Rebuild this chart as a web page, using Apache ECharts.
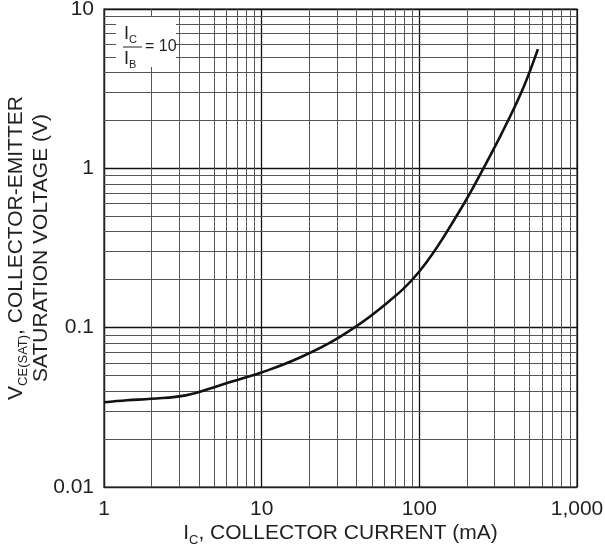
<!DOCTYPE html>
<html lang="en">

<head>
    <title>VCE(sat) vs IC</title>
    <meta charset="UTF-8">
    <script src="https://cdn.jsdelivr.net/npm/echarts@6/dist/echarts.min.js"></script>
    <style>
        html, body { margin: 0; padding: 0; background: #fff; }
        #chart { width: 605px; height: 548px; }
    </style>
</head>

<body>
    <div id="chart"></div>

    <script>
        // collector current (mA) and saturation voltage (V)
        var icValues = [1, 1.4, 2, 3.3, 5.4, 7.5, 10, 17.5, 31, 56, 100, 180, 280, 375, 465, 565];
        var vceValues = [0.034, 0.035, 0.0358, 0.0376, 0.0434, 0.048, 0.0523, 0.065, 0.087, 0.131, 0.225, 0.54, 1.19, 2.1, 3.35, 5.6];

        // log grid: minor lines inside each decade
        var xMinorLines = [2, 3, 4, 5, 6, 7, 8, 9, 20, 30, 40, 50, 60, 70, 80, 90, 200, 300, 400, 500, 600, 700, 800, 900];
        var yMinorLines = [0.02, 0.03, 0.04, 0.05, 0.06, 0.07, 0.08, 0.09, 0.2, 0.3, 0.4, 0.5, 0.6, 0.7, 0.8, 0.9, 2, 3, 4, 5, 6, 7, 8, 9];

        var xTickLabels = ['1', '10', '100', '1,000'];
        var yTickLabels = ['0.01', '0.1', '1', '10'];

        var font = 'Liberation Sans, Arial, Helvetica, sans-serif';
        var ink = '#231f20';

        var curve = [];
        for (var i = 0; i < icValues.length; i++) {
            curve.push([icValues[i], vceValues[i]]);
        }
        var gridMarks = [];
        xMinorLines.forEach(function (v) { gridMarks.push({ xAxis: v }); });
        yMinorLines.forEach(function (v) { gridMarks.push({ yAxis: v }); });

        var option = {
            animation: false,
            backgroundColor: '#fff',
            grid: {
                left: 104,
                right: 28,
                top: 9,
                bottom: 61,
                outerBoundsMode: 'none',
                containLabel: false,
                show: true,
                borderColor: '#222',
                borderWidth: 1.2
            },
            xAxis: {
                type: 'log',
                logBase: 10,
                min: 1,
                max: 1000,
                name: '{m|I}{s|C}{m|, COLLECTOR CURRENT (mA)}',
                nameLocation: 'middle',
                nameGap: 33,
                nameMoveOverlap: false,
                nameTextStyle: {
                    rich: {
                        m: { fontFamily: font, fontSize: 21, color: ink },
                        s: { fontFamily: font, fontSize: 13, color: ink, padding: [14, 0, 0, 0] }
                    }
                },
                axisLine: { show: true, lineStyle: { color: '#222', width: 1.2 } },
                axisTick: { show: false },
                splitLine: { show: true, lineStyle: { color: '#111', width: 1.3 } },
                axisLabel: {
                    margin: 12,
                    fontFamily: font,
                    fontSize: 21,
                    color: ink,
                    formatter: function (v) {
                        var k = Math.round(Math.log10(v));
                        return xTickLabels[k] || '';
                    }
                }
            },
            yAxis: {
                type: 'log',
                logBase: 10,
                min: 0.01,
                max: 10,
                name: '{m|V}{s|CE(SAT)}{m|, COLLECTOR-EMITTER}\n{m|SATURATION VOLTAGE (V)}',
                nameLocation: 'middle',
                nameRotate: 90,
                nameGap: 50,
                nameMoveOverlap: false,
                nameTextStyle: {
                    align: 'center',
                    lineHeight: 25,
                    rich: {
                        m: { fontFamily: font, fontSize: 21, color: ink, lineHeight: 25 },
                        s: { fontFamily: font, fontSize: 13, color: ink, lineHeight: 25, padding: [14, 0, 0, 0] }
                    }
                },
                axisLine: { show: true, lineStyle: { color: '#222', width: 1.2 } },
                axisTick: { show: false },
                splitLine: { show: true, lineStyle: { color: '#111', width: 1.3 } },
                axisLabel: {
                    margin: 10,
                    fontFamily: font,
                    fontSize: 21,
                    color: ink,
                    formatter: function (v) {
                        var k = Math.round(Math.log10(v)) + 2;
                        return yTickLabels[k] || '';
                    }
                }
            },
            series: [
                {
                    // minor grid lines of the log-log paper
                    name: 'grid',
                    type: 'line',
                    data: [],
                    silent: true,
                    markLine: {
                        silent: true,
                        symbol: 'none',
                        label: { show: false },
                        lineStyle: { color: '#555', width: 1, type: 'solid' },
                        data: gridMarks,
                        animation: false
                    }
                },
                {
                    name: 'VCE(sat)',
                    type: 'line',
                    data: curve,
                    smooth: 0.4,
                    showSymbol: false,
                    lineStyle: { color: '#111', width: 2.6 },
                    z: 5
                }
            ],
            graphic: [
                {
                    type: 'rect',
                    shape: { x: 116, y: 17, width: 60, height: 50 },
                    style: { fill: '#fff' },
                    z: 10
                },
                {
                    type: 'text',
                    x: 124,
                    y: 24,
                    z: 11,
                    style: {
                        text: '{m|I}{s|C}',
                        rich: {
                            m: { fontFamily: font, fontSize: 18, fill: ink },
                            s: { fontFamily: font, fontSize: 11, fill: ink, padding: [10, 0, 0, 0] }
                        }
                    }
                },
                {
                    type: 'line',
                    shape: { x1: 123, y1: 47, x2: 142, y2: 47 },
                    style: { stroke: ink, lineWidth: 1 },
                    z: 11
                },
                {
                    type: 'text',
                    x: 124,
                    y: 49,
                    z: 11,
                    style: {
                        text: '{m|I}{s|B}',
                        rich: {
                            m: { fontFamily: font, fontSize: 18, fill: ink },
                            s: { fontFamily: font, fontSize: 11, fill: ink, padding: [10, 0, 0, 0] }
                        }
                    }
                },
                {
                    type: 'text',
                    x: 145,
                    y: 39,
                    z: 11,
                    style: { text: '= 10', fontFamily: font, fontSize: 16, fill: ink }
                }
            ]
        };

        var myChart = echarts.init(document.getElementById('chart'));
        myChart.setOption(option);
    </script>
</body>

</html>
